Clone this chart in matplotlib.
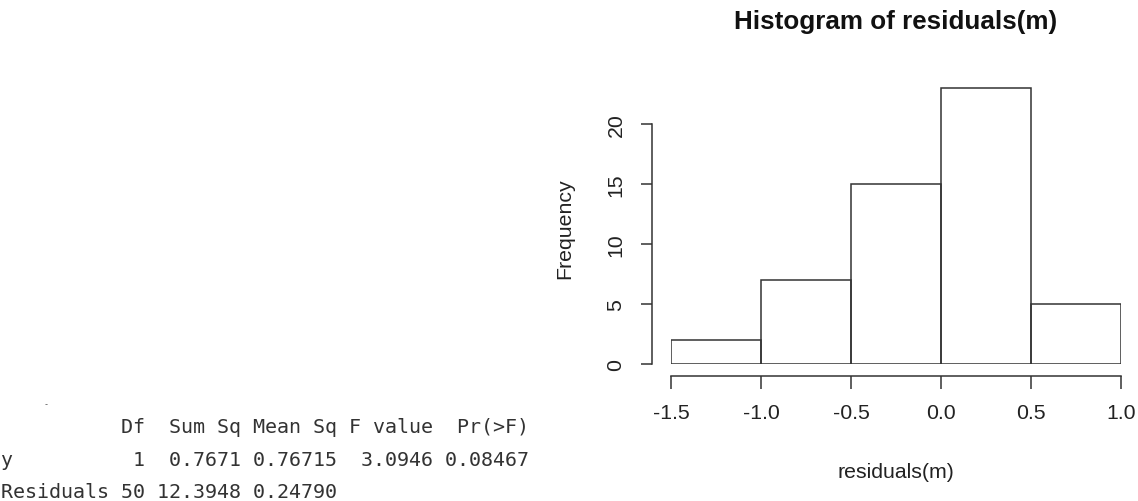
import matplotlib
matplotlib.use("Agg")
import matplotlib.pyplot as plt

# histogram of residuals(m)
bin_edges = [-1.5, -1.0, -0.5, 0.0, 0.5, 1.0]
counts = [2, 7, 15, 23, 5]
x_ticks = [-1.5, -1.0, -0.5, 0.0, 0.5, 1.0]
y_ticks = [0, 5, 10, 15, 20]

# anova table printed on the left
table_lines = [
    "          Df  Sum Sq Mean Sq F value  Pr(>F)",
    "y          1  0.7671 0.76715  3.0946 0.08467",
    "Residuals 50 12.3948 0.24790",
]

W, H = 1138, 502
fig = plt.figure(figsize=(W / 100, H / 100), dpi=100)
fig.patch.set_facecolor("white")

line_col = "#333333"
font = "Liberation Sans"

ax = fig.add_axes([671 / W, 1 - 365 / H, 450 / W, 288 / H])
ax.set_facecolor("none")
ax.bar(bin_edges[:-1], counts, width=[b - a for a, b in zip(bin_edges[:-1], bin_edges[1:])],
       align="edge", fill=False, edgecolor=line_col, linewidth=1.1)
ax.set_xlim(-1.5, 1.0)
ax.set_ylim(0, 24)

for s in ["top", "right"]:
    ax.spines[s].set_visible(False)
ax.spines["left"].set_position(("outward", 13.7))
ax.spines["bottom"].set_position(("outward", 8.6))
ax.spines["left"].set_bounds(0, 20)
ax.spines["bottom"].set_bounds(-1.5, 1.0)
for s in ["left", "bottom"]:
    ax.spines[s].set_color(line_col)
    ax.spines[s].set_linewidth(1.1)

ax.set_xticks(x_ticks)
ax.set_xticklabels([f"{v:.1f}" for v in x_ticks])
ax.set_yticks(y_ticks)
ax.set_yticklabels([str(v) for v in y_ticks], rotation=90, va="center")
ax.tick_params(axis="x", length=9.4, width=1.1, color=line_col, pad=10, labelsize=15.3)
ax.tick_params(axis="y", length=8, width=1.1, color=line_col, pad=11, labelsize=15.3)
for lab in ax.get_xticklabels() + ax.get_yticklabels():
    lab.set_fontfamily(font)
    lab.set_color("#222222")

fig.text(896 / W, 1 - 22 / H, "Histogram of residuals(m)", ha="center", va="center",
         fontsize=18.7, fontweight="bold", family=font, color="#111111")
fig.text(896 / W, 1 - 472 / H, "residuals(m)", ha="center", va="center",
         fontsize=15.3, family=font, color="#222222")
fig.text(565 / W, 1 - 229 / H, "Frequency", ha="center", va="center", rotation=90,
         fontsize=15.3, family=font, color="#222222")

# console output
fig.text(46 / W, 1 - 405 / H, "-", ha="center", va="center", fontsize=6,
         family="DejaVu Sans Mono", color="#555555")
for i, line in enumerate(table_lines):
    fig.text(1 / W, 1 - (428 + 32.5 * i) / H, line, ha="left", va="center",
             fontsize=14.4, family="DejaVu Sans Mono", color="#333333")

fig.savefig("out.png", dpi=100, facecolor="white")
